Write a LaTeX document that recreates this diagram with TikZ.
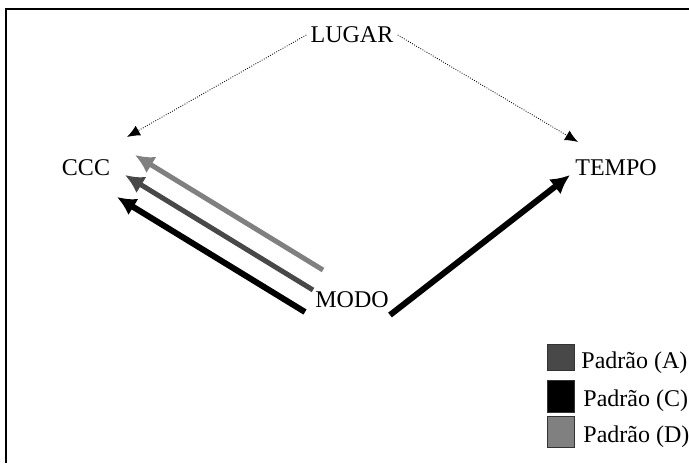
\documentclass[tikz,border=0pt]{standalone}
\usepackage{fontspec}
\setmainfont{Liberation Serif}
\usetikzlibrary{arrows.meta}
\definecolor{padA}{RGB}{72,72,72}
\definecolor{padC}{RGB}{0,0,0}
\definecolor{padD}{RGB}{128,128,128}
\tikzset{term/.style = {inner sep=2pt,font=\fontsize{12}{14}\selectfont}}
\tikzset{link/.style = {dash pattern=on 0.4pt off 0.8pt,line width=0.45pt,-{Latex[length=6.5pt,width=5.5pt]}}}
\tikzset{flow/.style = {line width=3pt,-{Latex[length=9.5pt,width=9.5pt]}}}
\tikzset{legbox/.style = {draw=black!80,line width=0.5pt,minimum width=13.5pt,inner sep=0pt}}

\begin{document}
\begin{tikzpicture}[x=0.5pt,y=-0.5pt]
		\useasboundingbox (0,0) rectangle (689,463);
		\draw[line width=0.65pt] (689,9) -- (6,9) -- (6,463);

		% terms
		\node[term] (lugar) at (352,35) {LUGAR};
		\node[term] (ccc) at (86,168) {CCC};
		\node[term] (tempo) at (616,168) {TEMPO};
		\node[term] (modo) at (352,300) {MODO};

		%edges
		\draw[link] (lugar.west) -- ([shift={(41,-31)}]ccc.center);
		\draw[link] (lugar.east) -- ([shift={(-38,-26)}]tempo.center);
		\draw[flow,padD,line width=2.5pt] ([shift={(-29,-30)}]modo.center) -- ([shift={(49,-13)}]ccc.center);
		\draw[flow,padA,line width=2.5pt] ([shift={(-39,-10)}]modo.center) -- ([shift={(39,7)}]ccc.center);
		\draw[flow,padC] ([shift={(-47,12)}]modo.center) -- ([shift={(31,29)}]ccc.center);
		\draw[flow,padC] ([shift={(38,15)}]modo.center) -- ([shift={(-46,7)}]tempo.center);

		% legend
		\node[legbox,fill=padA,minimum height=13pt] (boxA) at (561,357) {};
		\node[legbox,fill=padC,minimum height=16pt] (boxC) at (561,396) {};
		\node[legbox,fill=padD,minimum height=15.5pt] (boxD) at (561,431.5) {};
		\node[term,anchor=west] (labA) at (577,363) {Padrão (A)};
		\node[term,anchor=west] (labC) at (579,401) {Padrão (C)};
		\node[term,anchor=west] (labD) at (579,437) {Padrão (D)};
	\end{tikzpicture}
\end{document}
